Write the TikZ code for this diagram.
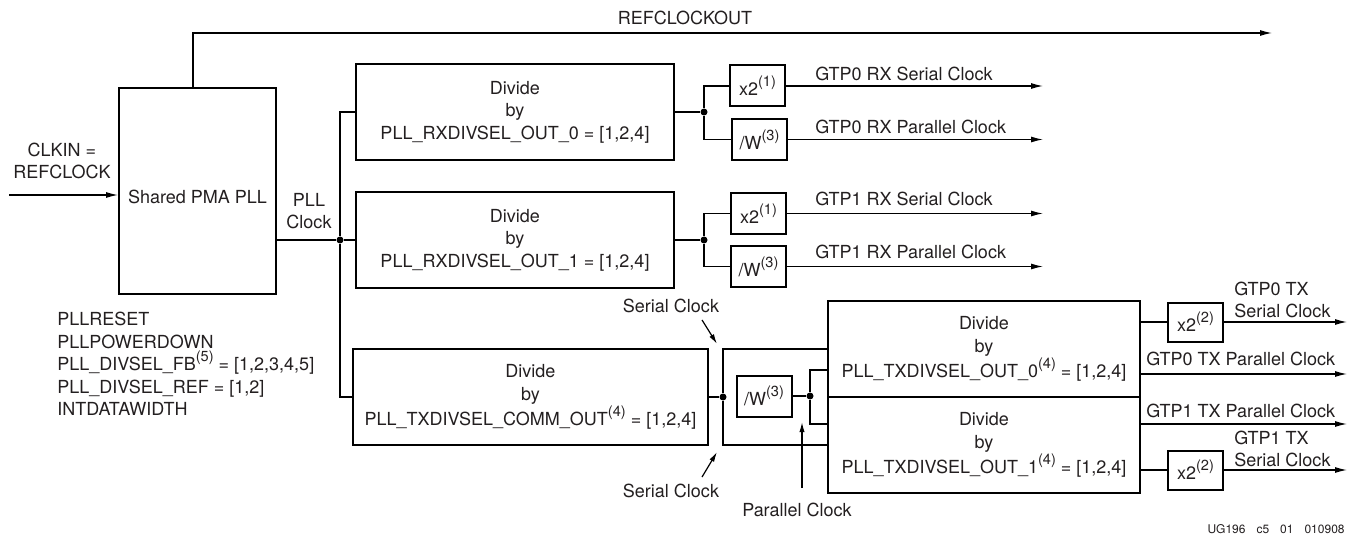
\documentclass[tikz,border=0pt]{standalone}
\usepackage{fontspec}
\setmainfont{TeX Gyre Heros}
\usetikzlibrary{arrows.meta}
\definecolor{txt}{HTML}{231F20}
\newcommand\sps[1]{\raisebox{4.4pt}{\fontsize{7.3}{8}\selectfont(#1)}}
\begin{document}
\begin{tikzpicture}[x=0.5pt,y=-0.5pt,
  every node/.style={font=\fontsize{9}{11.25}\selectfont, text=txt},
  blk/.style={draw, line width=1pt, inner sep=0pt, align=center},
  sbox/.style={blk, minimum width=27.5pt, minimum height=20.5pt},
  wire/.style={line width=0.6pt},
  arr/.style={wire, -{Latex[length=6pt,width=3pt]}},
  ann/.style={wire, -{Latex[length=5pt,width=2.6pt]}},
  dot/.style={circle, fill, inner sep=0pt, minimum size=3.5pt},
  lbl/.style={anchor=west, inner sep=0pt, align=left},
]
\useasboundingbox (0,0) rectangle (1351,535);

% coordinates for free ends
\coordinate (clkin) at (9,195);
\coordinate (refend) at (1272,33);
\coordinate (rxend) at (1043,0);
\coordinate (txend) at (1347,0);

% main blocks
\node[blk, minimum width=78.5pt, minimum height=103pt, text height=12.5pt, text depth=0pt] (pll) at (197.5,191) {Shared PMA PLL};
\node[blk, minimum width=159pt, minimum height=48pt] (rx0) at (515,112) {Divide\\by\\PLL\_RXDIVSEL\_OUT\_0 = [1,2,4]};
\node[blk, minimum width=159pt, minimum height=48pt] (rx1) at (515,240) {Divide\\by\\PLL\_RXDIVSEL\_OUT\_1 = [1,2,4]};
\node[blk, minimum width=177.5pt, minimum height=48pt] (comm) at (530.5,397) {Divide\\by\\PLL\_TXDIVSEL\_COMM\_OUT\sps{4} = [1,2,4]};
\node[blk, minimum width=156pt, minimum height=48pt] (tx0) at (984,349) {Divide\\by\\PLL\_TXDIVSEL\_OUT\_0\sps{4} = [1,2,4]};
\node[blk, minimum width=156pt, minimum height=48pt] (tx1) at (984,445) {Divide\\by\\PLL\_TXDIVSEL\_OUT\_1\sps{4} = [1,2,4]};

% small boxes
\node[sbox] (x2a) at (757.5,86) {x2\sps{1}};
\node[sbox] (wa) at (759.5,139.5) {/W\sps{3}};
\node[sbox] (x2b) at (758.5,213.5) {x2\sps{1}};
\node[sbox] (wb) at (758.5,266.5) {/W\sps{3}};
\node[sbox] (wtx) at (764,396) {/W\sps{3}};
\node[sbox, minimum height=19.5pt] (x2c) at (1195.5,322) {x2\sps{2}};
\node[sbox, minimum height=19.5pt] (x2d) at (1195.5,470) {x2\sps{2}};

% junction dots
\node[dot] (jp) at (340,240) {};
\node[dot] (j0) at (704,112) {};
\node[dot] (j1) at (704,240) {};
\node[dot] (jc) at (723,397) {};
\node[dot] (jw) at (810,396) {};

% text labels
\node (rco) at (685,18) {REFCLOCKOUT};
\node[align=center] (clk) at (62,161) {CLKIN =\\REFCLOCK};
\node[align=center] (plc) at (309,211) {PLL\\Clock};
\node[lbl] (prm) at (57,364) {PLLRESET\\PLLPOWERDOWN\\PLL\_DIVSEL\_FB\sps{5} = [1,2,3,4,5]\\PLL\_DIVSEL\_REF = [1,2]\\INTDATAWIDTH};
\node[lbl] (l0s) at (815,74) {GTP0 RX Serial Clock};
\node[lbl] (l0p) at (815,127) {GTP0 RX Parallel Clock};
\node[lbl] (l1s) at (815,199) {GTP1 RX Serial Clock};
\node[lbl] (l1p) at (815,252) {GTP1 RX Parallel Clock};
\node[lbl] (t0s) at (1234,300) {GTP0 TX\\Serial Clock};
\node[lbl] (t0p) at (1146,359) {GTP0 TX Parallel Clock};
\node[lbl] (t1p) at (1146,411) {GTP1 TX Parallel Clock};
\node[lbl] (t1s) at (1234,449) {GTP1 TX\\Serial Clock};
\node (sc1) at (671,306) {Serial Clock};
\node (sc2) at (671,491) {Serial Clock};
\node (pc) at (797,510) {Parallel Clock};
\node[anchor=east, inner sep=0pt, font=\fontsize{6}{7}\selectfont] (fn) at (1345,529) {UG196\hspace{5.5pt}c5\hspace{5.5pt}01\hspace{5.5pt}010908};

% connectors: PLL
\draw[arr] (clkin) -- (clkin -| pll.west);
\draw[arr] ([xshift=-2.25pt]pll.north) |- (refend);
\draw[wire] (pll.east |- jp) -- (jp);
\draw[wire] (rx0.west) -| (jp) |- (comm.west);
\draw[wire] (jp) -- (rx1.west);

% RX0
\draw[wire] (rx0.east) -- (j0);
\draw[wire] (x2a.west) -| (j0) |- (wa.west);
\draw[arr] (x2a.east) -- (x2a.east -| rxend);
\draw[arr] (wa.east) -- (wa.east -| rxend);
% RX1
\draw[wire] (rx1.east) -- (j1);
\draw[wire] (x2b.west) -| (j1) |- (wb.west);
\draw[arr] (x2b.east) -- (x2b.east -| rxend);
\draw[arr] (wb.east) -- (wb.east -| rxend);

% TX
\draw[wire] (comm.east) -- (jc);
\draw[wire] (tx0.west) -| (jc) |- (tx1.west);
\draw[wire] (wtx.east) -- (jw);
\draw[wire] ([yshift=-10.5pt]tx0.west) -| (jw) |- ([yshift=10.5pt]tx1.west);
\draw[wire] (x2c.west -| tx0.east) -- (x2c.west);
\draw[arr] (x2c.east) -- (x2c.east -| txend);
\draw[arr] ([yshift=-12.5pt]tx0.east) -- ([yshift=-12.5pt]tx0.east -| txend);
\draw[arr] ([yshift=10.5pt]tx1.east) -- ([yshift=10.5pt]tx1.east -| txend);
\draw[wire] (x2d.west -| tx1.east) -- (x2d.west);
\draw[arr] (x2d.east) -- (x2d.east -| txend);

% annotation arrows
\draw[ann] ([xshift=15.5pt]sc1.south) -- (717,344);
\draw[ann] ([xshift=15.5pt]sc2.north) -- (717,452);
\draw[ann] ([xshift=2.5pt,yshift=4pt]pc.north) -- (802,422);
\end{tikzpicture}
\end{document}
